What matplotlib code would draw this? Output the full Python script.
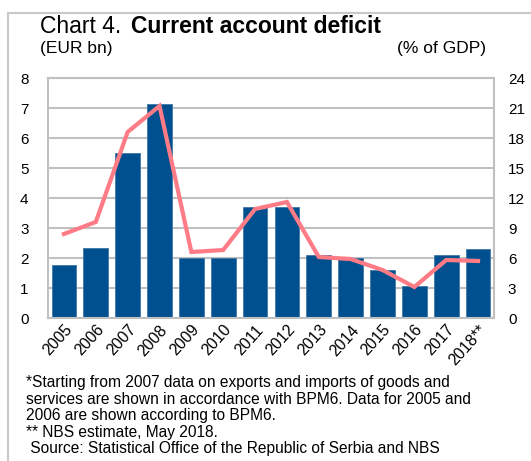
import numpy as np
import matplotlib.pyplot as plt
from matplotlib.patches import Rectangle

plt.rcParams['font.family'] = ['Liberation Sans', 'DejaVu Sans']

years = ['2005', '2006', '2007', '2008', '2009', '2010', '2011',
         '2012', '2013', '2014', '2015', '2016', '2017', '2018**']
deficit_eur = [1.78, 2.35, 5.49, 7.14, 2.0, 2.0, 3.71,
               3.71, 2.09, 2.0, 1.6, 1.08, 2.09, 2.3]
deficit_gdp = [8.4, 9.6, 18.6, 21.2, 6.6, 6.8, 10.9,
               11.6, 6.1, 5.9, 4.8, 3.1, 5.8, 5.7]

bar_col = '#00508f'
line_col = '#ff7b86'
grid_col = '#c0c0c0'

fig = plt.figure(figsize=(5.31, 4.61), dpi=100)
W, H = 531, 461

# outer frame
fig.patches.append(Rectangle((8 / W, -0.1), 1.2, 1 - 13 / H + 0.1,
                             transform=fig.transFigure, fill=False,
                             edgecolor='#c8c8c8', lw=1.5))

ax = fig.add_axes([48 / W, 1 - 318 / H, (494 - 48) / W, (318 - 78) / H])
x = np.arange(len(years))
ax.bar(x, deficit_eur, width=0.78, color=bar_col, edgecolor='#3f78a8',
       lw=0.6, zorder=2)
ax.set_xlim(-0.5, len(years) - 0.5)
ax.set_ylim(0, 8)
ax.set_yticks(range(0, 9))
ax.grid(axis='y', color=grid_col, lw=1.5, zorder=0)
ax.set_axisbelow(True)
for s in ax.spines.values():
    s.set_color(grid_col)
    s.set_linewidth(1.5)
ax.tick_params(axis='y', length=0, pad=14, labelsize=11)
ax.tick_params(axis='x', length=0, pad=3, labelsize=11.5)
ax.set_xticks(x)
ax.set_xticklabels(years, rotation=48, ha='right', rotation_mode='anchor')

ax2 = ax.twinx()
ax2.plot(x, deficit_gdp, color=line_col, lw=3.0, solid_joinstyle='miter',
         zorder=3)
ax2.set_ylim(0, 24)
ax2.set_yticks(range(0, 25, 3))
ax2.tick_params(axis='y', length=0, pad=10, labelsize=11)
for s in ax2.spines.values():
    s.set_visible(False)

fig.text(40 / W, 1 - 33 / H, 'Chart 4.', fontsize=16.5, va='baseline')
fig.text(131 / W, 1 - 33 / H, 'Current account deficit', fontsize=16.5,
         fontweight='bold', va='baseline')
fig.text(40 / W, 1 - 53 / H, '(EUR bn)', fontsize=12.5, va='baseline')
fig.text(486 / W, 1 - 53 / H, '(% of GDP)', fontsize=12.5, va='baseline',
         ha='right')

notes = [
    '*Starting from 2007 data on exports and imports of goods and',
    'services are shown in accordance with BPM6. Data for 2005 and',
    '2006 are shown according to BPM6.',
    '** NBS estimate, May 2018.',
    ' Source: Statistical Office of the Republic of Serbia and NBS',
]
for i, t in enumerate(notes):
    fig.text(26 / W, 1 - (387 + 16.5 * i) / H, t, fontsize=11.2,
             va='baseline')

fig.savefig('out.png', dpi=100)
